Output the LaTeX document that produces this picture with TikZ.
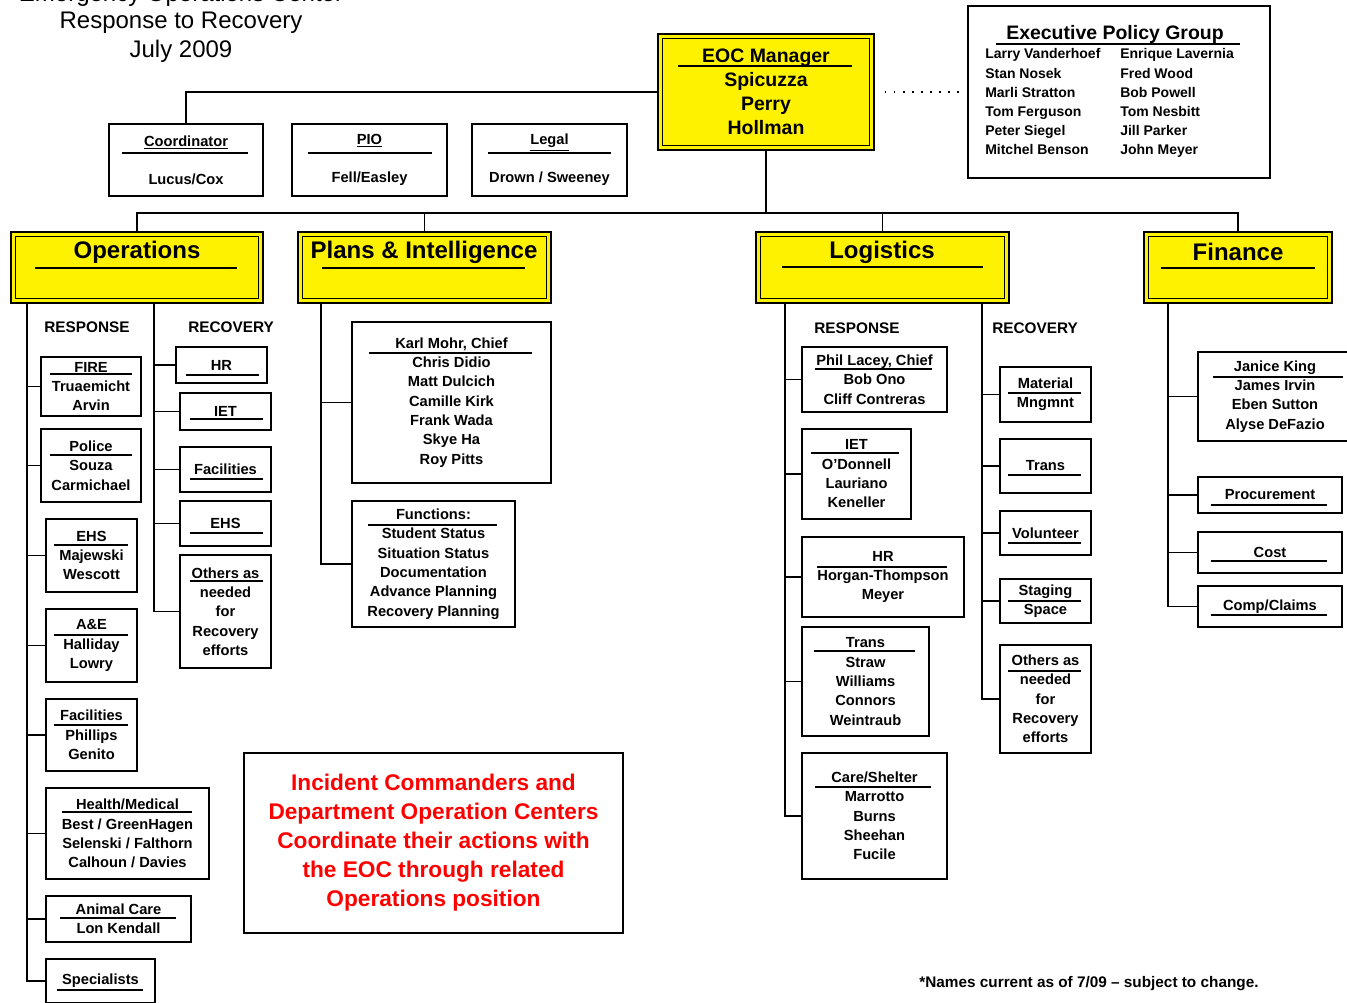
\documentclass[tikz,border=0pt]{standalone}
\usepackage{fontspec}
\setmainfont{Liberation Sans}
\newcommand\smfont{\fontsize{11}{14.5}\selectfont\bfseries}
\newcommand\exfont{\fontsize{10.5}{14.4}\selectfont\bfseries}
\newcommand\hdrfont{\fontsize{18}{21}\selectfont\bfseries}
\newcommand\eocfont{\fontsize{14.6}{18}\selectfont\bfseries}
\newcommand\redfont{\fontsize{17}{21.75}\selectfont\bfseries}
\newcommand\titlefont{\fontsize{18}{21}\selectfont}
\newcommand\labfont{\fontsize{11.5}{14}\selectfont\bfseries}
\newcommand\innerframe[1]{\draw[line width=0.8pt] ([shift={(4.3pt,-4.3pt)}]#1.north west) rectangle ([shift={(-4.3pt,4.3pt)}]#1.south east);}
\begin{document}
\begin{tikzpicture}[x=0.75pt,y=-0.75pt,
  pbox/.style n args={4}{minimum width={(#3-#1)*0.75pt},minimum height={(#4-#2)*0.75pt},at={({(#1+#3)/2},{(#2+#4)/2})}},
  box/.style={draw,line width=1.1pt,inner sep=0pt,align=center,font=\smfont},
  ybox/.style={draw,line width=2.2pt,fill=yellow,inner sep=0pt},
  conn/.style={line width=1pt},
  thickconn/.style={line width=2.2pt},
  uline/.style={line width=1pt},
  lab/.style={font=\labfont,inner sep=0pt},
  hdr/.style={font=\hdrfont,inner sep=0pt}]
\useasboundingbox (0,0) rectangle (1347,1003);

% title
\node[font=\titlefont] (t1) at (181,-5) {Emergency Operations Center};
\node[font=\titlefont] (t2) at (181,23) {Response to Recovery};
\node[font=\titlefont] (t3) at (181,51) {July 2009};

% EOC manager
\node[ybox,pbox={658}{34}{874}{150},align=center,font=\eocfont] (eoc) {EOC Manager\\Spicuzza\\Perry\\Hollman};
\innerframe{eoc}
\draw[uline] (678,66) -- (852,66);

% Executive policy group
\node[draw,line width=1.1pt,inner sep=0pt,pbox={968}{6}{1270}{178}] (epg) {};
\node[font=\eocfont,inner sep=0pt] (epgT) at (1115,34) {Executive Policy Group};
\draw[uline] (996,44) -- (1240,44);
\node[font=\exfont,align=left,anchor=north west,inner sep=0pt] (epgL) at (985,48.5) {Larry Vanderhoef\\Stan Nosek\\Marli Stratton\\Tom Ferguson\\Peter Siegel\\Mitchel Benson};
\node[font=\exfont,align=left,anchor=north west,inner sep=0pt] (epgR) at (1120,48.5) {Enrique Lavernia\\Fred Wood\\Bob Powell\\Tom Nesbitt\\Jill Parker\\John Meyer};
\draw[conn,dash pattern=on 1.2pt off 5.6pt,shorten <=7pt,shorten >=6pt] (eoc.east) -- (epg.west);

% staff
\node[box,pbox={109}{124}{263}{196}] (coord) {\underline{Coordinator}\\[14pt]Lucus/Cox};
\draw[uline] (122,153) -- (248,153);
\node[box,pbox={292}{124}{447}{196}] (pio) {\underline{PIO}\\[14pt]Fell/Easley};
\draw[uline] (308,153) -- (432,153);
\node[box,pbox={472}{124}{627}{196}] (legal) {\underline{Legal}\\[14pt]Drown / Sweeney};
\draw[uline] (488,153) -- (611,153);
\draw[conn] (eoc.west) -| (coord.north);

% section heads
\node[ybox,pbox={11}{232}{263}{303}] (ops) {};
\innerframe{ops}
\node[hdr] (opsT) at (137,252) {Operations};
\draw[uline] (35,268) -- (237,268);

\node[ybox,pbox={298}{232}{551}{303}] (plans) {};
\innerframe{plans}
\node[hdr] (plansT) at (424,252) {Plans \& Intelligence};
\draw[uline] (322,268) -- (525,268);

\node[ybox,pbox={756}{232}{1009}{303}] (log) {};
\innerframe{log}
\node[hdr] (logT) at (882,252) {Logistics};
\draw[uline] (782,267) -- (983,267);

\node[ybox,pbox={1144}{232}{1332}{303}] (fin) {};
\innerframe{fin}
\node[hdr] (finT) at (1238,252) {Finance};
\draw[uline] (1161,268) -- (1315,268);

\coordinate (bus) at (766,213);
\draw[conn] (eoc.south) -- (bus);
\foreach \n in {ops,plans,log,fin} \draw[conn] (bus) -| (\n.north);

% Operations
\node[lab] (opsResp) at (87,327) {RESPONSE};
\node[lab] (opsRec) at (231,327) {RECOVERY};
\node[box,pbox={41}{357}{141}{416}] (fire) {FIRE\\Truaemicht\\Arvin};
\draw[uline] (50,374) -- (132,374);
\node[box,pbox={41}{429}{141}{502}] (police) {Police\\Souza\\Carmichael};
\draw[uline] (50,455) -- (132,455);
\node[box,pbox={46}{519}{137}{592}] (oehs) {EHS\\Majewski\\Wescott};
\draw[uline] (54,545) -- (128,545);
\node[box,pbox={46}{609}{137}{682}] (ae) {A\&E\\Halliday\\Lowry};
\draw[uline] (54,635) -- (128,635);
\node[box,pbox={46}{699}{137}{771}] (ofac) {Facilities\\Phillips\\Genito};
\draw[uline] (54,725) -- (128,725);
\node[box,pbox={46}{788}{209}{879}] (health) {Health/Medical\\Best / GreenHagen\\Selenski / Falthorn\\Calhoun / Davies};
\draw[uline] (62,812) -- (192,812);
\node[box,pbox={46}{896}{191}{942}] (animal) {Animal Care\\Lon Kendall};
\draw[uline] (60,918) -- (176,918);
\node[box,pbox={46}{959}{155}{1003}] (spec) {Specialists};
\draw[uline] (57,990) -- (143,990);

\node[box,pbox={176}{347}{267}{383}] (ohr) {HR};
\draw[uline] (186,375) -- (259,375);
\node[box,pbox={180}{393}{271}{430}] (oiet) {IET};
\draw[uline] (190,419) -- (263,419);
\node[box,pbox={180}{447}{271}{492}] (ofacr) {Facilities};
\draw[uline] (190,479) -- (263,479);
\node[box,pbox={180}{501}{271}{546}] (oehsr) {EHS};
\draw[uline] (190,533) -- (263,533);
\node[box,pbox={180}{555}{271}{668}] (oothers) {Others as\\needed\\for\\Recovery\\efforts};
\draw[uline] (190,581) -- (263,581);

\coordinate (opsA) at (27,303);
\coordinate (opsB) at (154,303);
\foreach \n in {fire,police,oehs,ae,ofac,health,animal,spec} \draw[conn] (opsA) |- (\n.west);
\draw[thickconn] (opsA) -- (opsA |- ae.west);
\foreach \n in {ohr,oiet,ofacr,oehsr,oothers} \draw[conn] (opsB) |- (\n.west);

% Plans
\node[box,pbox={352}{322}{551}{483}] (chief) {Karl Mohr, Chief\\Chris Didio\\Matt Dulcich\\Camille Kirk\\Frank Wada\\Skye Ha\\Roy Pitts};
\draw[uline] (369,353) -- (532,353);
\node[box,pbox={352}{501}{515}{627}] (func) {Functions:\\Student Status\\Situation Status\\Documentation\\Advance Planning\\Recovery Planning};
\draw[uline] (368,525) -- (497,525);
\coordinate (plA) at (321,303);
\foreach \n in {chief,func} \draw[conn] (plA) |- (\n.west);

% Logistics
\node[lab] (logResp) at (857,328) {RESPONSE};
\node[lab] (logRec) at (1035,328) {RECOVERY};
\node[box,pbox={802}{347}{947}{412}] (phil) {Phil Lacey, Chief\\Bob Ono\\Cliff Contreras};
\draw[uline] (815,369) -- (932,369);
\node[box,pbox={802}{429}{911}{519}] (liet) {IET\\O'Donnell\\Lauriano\\Keneller};
\draw[uline] (811,453) -- (899,453);
\node[box,pbox={802}{537}{964}{617}] (lhr) {HR\\Horgan-Thompson\\Meyer};
\draw[uline] (817,567) -- (947,567);
\node[box,pbox={802}{627}{929}{736}] (ltrans) {Trans\\Straw\\Williams\\Connors\\Weintraub};
\draw[uline] (814,651) -- (915,651);
\node[box,pbox={802}{753}{947}{879}] (care) {Care/Shelter\\Marrotto\\Burns\\Sheehan\\Fucile};
\draw[uline] (815,787) -- (931,787);

\node[box,pbox={1000}{367}{1091}{422}] (mat) {Material\\Mngmnt};
\draw[uline] (1008,393) -- (1081,393);
\node[box,pbox={1000}{439}{1091}{493}] (rtrans) {Trans};
\draw[uline] (1008,475) -- (1081,475);
\node[box,pbox={1000}{511}{1091}{555}] (vol) {Volunteer};
\draw[uline] (1008,543) -- (1081,543);
\node[box,pbox={1000}{579}{1091}{623}] (stag) {Staging\\Space};
\draw[uline] (1008,601) -- (1081,601);
\node[box,pbox={1000}{645}{1091}{753}] (lothers) {Others as\\needed\\for\\Recovery\\efforts};
\draw[uline] (1008,671) -- (1081,671);

\coordinate (logA) at (785,303);
\coordinate (logB) at (982,303);
\foreach \n in {phil,liet,lhr,ltrans,care} \draw[conn] (logA) |- (\n.west);
\foreach \n in {mat,rtrans,vol,stag,lothers} \draw[conn] (logB) |- (\n.west);
\draw[thickconn] (logB) -- (logB |- stag.west);

% Finance
\node[box,pbox={1198}{352}{1352}{441}] (janice) {Janice King\\James Irvin\\Eben Sutton\\Alyse DeFazio};
\draw[uline] (1213,377) -- (1343,377);
\node[box,pbox={1198}{477}{1342}{513}] (proc) {Procurement};
\draw[uline] (1211,505) -- (1327,505);
\node[box,pbox={1198}{532}{1342}{573}] (cost) {Cost};
\draw[uline] (1211,561) -- (1327,561);
\node[box,pbox={1198}{586}{1342}{627}] (comp) {Comp/Claims};
\draw[uline] (1211,615) -- (1327,615);
\coordinate (finA) at (1168,303);
\foreach \n in {janice,proc,cost,comp} \draw[conn] (finA) |- (\n.west);

% note
\node[box,pbox={244}{753}{623}{933},font=\redfont,text=red] (note) {Incident Commanders and\\Department Operation Centers\\Coordinate their actions with\\the EOC through related\\Operations position};

\node[lab] (foot) at (1089,984) {*Names current as of 7/09 – subject to change.};
\end{tikzpicture}
\end{document}
